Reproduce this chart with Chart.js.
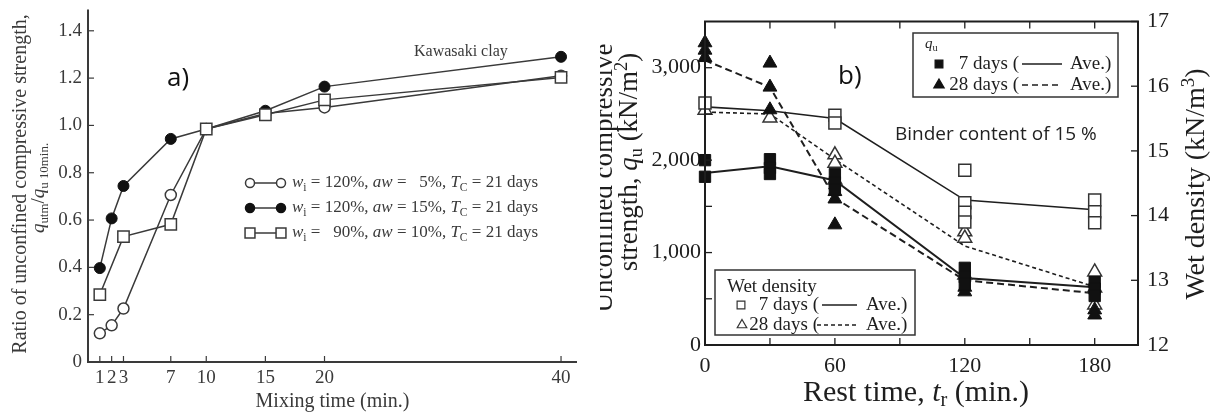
<!DOCTYPE html>
<html><head><meta charset="utf-8">
<script src="https://cdn.jsdelivr.net/npm/chart.js@4.4.1/dist/chart.umd.min.js"></script>
<style>
html,body{margin:0;padding:0;background:#fff;}
#wrap{position:relative;width:1211px;height:414px;overflow:hidden;background:#fff;}
#boxA{position:absolute;left:0;top:0;width:600px;height:414px;}
#boxB{position:absolute;left:600px;top:0;width:611px;height:414px;}
</style></head><body>
<div id="wrap">
<div id="boxA"><canvas id="cA" width="600" height="414"></canvas></div>
<div id="boxB"><canvas id="cB" width="611" height="414"></canvas></div>
</div>
<script>
// ---------- Panel a) data ----------
const mixTimes   = [1, 2, 3, 7, 10, 15, 20, 40];
const mixTimesSq = [1, 3, 7, 10, 15, 20, 40];
const ratioAw5   = [0.121, 0.155, 0.226, 0.706, 0.985, 1.05, 1.076, 1.21];
const ratioAw15  = [0.397, 0.607, 0.744, 0.943, 0.985, 1.062, 1.164, 1.29];
const ratioW90   = [0.285, 0.53, 0.582, 0.985, 1.045, 1.108, 1.203];
const mixTickValues   = [1, 2, 3, 7, 10, 15, 20, 40];
const ratioTickValues = [0, 0.2, 0.4, 0.6, 0.8, 1.0, 1.2, 1.4];
const legendA = ['w_i = 120%, aw =   5%, T_C = 21 days', 'w_i = 120%, aw = 15%, T_C = 21 days', 'w_i =   90%, aw = 10%, T_C = 21 days'];

// ---------- Panel b) data ----------
const restTimes  = [0, 30, 60, 120, 180];
const qu7Times   = [0, 0, 30, 30, 30, 60, 60, 60, 120, 120, 120, 180, 180, 180];
const qu7Values  = [2000, 1820, 2010, 1915, 1850, 1850, 1760, 1680, 835, 735, 660, 680, 610, 530];
const qu7Ave     = [1860, 1935, 1780, 725, 625];
const qu28Times  = [0, 0, 0, 30, 30, 30, 60, 60, 60, 120, 120, 180, 180];
const qu28Values = [3270, 3190, 3110, 3050, 2790, 2545, 1660, 1580, 1300, 625, 575, 380, 325];
const qu28Ave    = [3080, 2790, 1590, 700, 560];
const den7Times  = [0, 60, 60, 120, 120, 120, 120, 180, 180, 180];
const den7Values = [15.74, 15.55, 15.43, 14.70, 14.20, 14.05, 13.90, 14.24, 14.06, 13.89];
const den7Ave    = [15.68, 15.62, 15.50, 14.24, 14.09];
const den28Times = [0, 30, 60, 60, 60, 120, 120, 120, 180, 180, 180];
const den28Values= [15.63, 15.51, 14.94, 14.81, 14.55, 13.75, 13.65, 13.08, 13.13, 12.88, 12.62];
const den28Ave   = [15.60, 15.57, 14.87, 13.53, 12.90];
const restTickValues = [0, 30, 60, 90, 120, 150, 180];
const quTickValues   = [0, 500, 1000, 1500, 2000, 2500, 3000];
const denTickValues  = [12, 13, 14, 15, 16, 17];

// ---------- helpers ----------
const SERIF = "Liberation Serif, DejaVu Serif, serif";
const SANS = "Open Sans, Liberation Sans, sans-serif";
Chart.defaults.font.family = SERIF;
function zip(xs, ys){ return xs.map((x,i)=>({x:x, y:ys[i]})); }
function runFont(r, size, fam){ const s=(r.sub||r.sup)?size*0.68:size; return (r.it?'italic ':'')+s.toFixed(2)+'px '+fam; }
function measureRuns(ctx, runs, size, fam){ let w=0; for(const r of runs){ ctx.font=runFont(r,size,fam); w+=ctx.measureText(r.t).width; } return w; }
function drawRich(ctx, runs, x, y, o){
  const size=o.size, fam=o.family||SERIF;
  ctx.save(); ctx.translate(x,y); if(o.rotate) ctx.rotate(o.rotate); if(o.hs) ctx.scale(o.hs,1);
  const w=measureRuns(ctx,runs,size,fam);
  let cx = o.align==='center' ? -w/2 : (o.align==='right' ? -w : 0);
  ctx.fillStyle=o.color||'#222'; ctx.textBaseline='middle'; ctx.textAlign='left';
  for(const r of runs){ ctx.font=runFont(r,size,fam); const dy=r.sub?size*0.27:(r.sup?-size*0.3:0); ctx.fillText(r.t,cx,dy); cx+=ctx.measureText(r.t).width; }
  ctx.restore();
}
function parseRich(s){
  const runs=[]; const re=/(w_i|T_C|aw)/g; let last=0, m;
  while((m=re.exec(s))){ if(m.index>last) runs.push({t:s.slice(last,m.index)});
    if(m[0]==='w_i'){ runs.push({t:'w',it:true}); runs.push({t:'i',sub:true}); }
    else if(m[0]==='T_C'){ runs.push({t:'T',it:true}); runs.push({t:'C',sub:true}); }
    else runs.push({t:'aw',it:true});
    last=re.lastIndex; }
  if(last<s.length) runs.push({t:s.slice(last)});
  return runs;
}
function seg(ctx,x1,y1,x2,y2){ ctx.beginPath(); ctx.moveTo(x1,y1); ctx.lineTo(x2,y2); ctx.stroke(); }
function fixedTicks(vals){ return function(axis){ axis.ticks = vals.map(v=>({value:v})); }; }
function fitW(w){ return function(s){ s.width=w; s.paddingTop=0; s.paddingBottom=0; s.paddingLeft=0; s.paddingRight=0; }; }
function fitH(h){ return function(s){ s.height=h; s.paddingTop=0; s.paddingBottom=0; s.paddingLeft=0; s.paddingRight=0; }; }

// ---------- Chart a) ----------
const colA='#3a3a3a';
const plugA = {
  id:'decoA',
  afterDraw(chart){
    const {ctx, chartArea:a, scales:{x,y}} = chart;
    ctx.save();
    ctx.strokeStyle=colA; ctx.lineWidth=2;
    ctx.beginPath(); ctx.moveTo(a.left,a.top); ctx.lineTo(a.left,a.bottom); ctx.lineTo(a.right,a.bottom); ctx.stroke();
    ctx.lineWidth=1.2;
    y.ticks.forEach(t=>{ if(t.value===0) return; const p=y.getPixelForValue(t.value); seg(ctx,a.left,p,a.left+6,p); });
    x.ticks.forEach(t=>{ const p=x.getPixelForValue(t.value); seg(ctx,p,a.bottom,p,a.bottom-6); });
    drawRich(ctx,[{t:'Mixing time (min.)'}],(a.left+a.right)/2,402,{size:20,align:'center',color:colA});
    drawRich(ctx,[{t:'Ratio of unconfined compressive strength,'}],21,184,{size:20,align:'center',rotate:-Math.PI/2,color:colA});
    drawRich(ctx,[{t:'q',it:true},{t:'utm',sub:true},{t:'/'},{t:'q',it:true},{t:'u 10min.',sub:true}],39,188,{size:19,align:'center',rotate:-Math.PI/2,color:colA});
    drawRich(ctx,[{t:'Kawasaki clay'}],414,52,{size:16,color:colA});
    drawRich(ctx,[{t:'a)'}],167,79,{size:26,family:SANS,color:'#111'});
    const ds = chart.data.datasets;
    const rowsY=[183,208,233];
    legendA.forEach((txt,i)=>{
      const d = ds[[2,1,0][i]];
      const yy=rowsY[i];
      ctx.strokeStyle=colA; ctx.lineWidth=1.5; seg(ctx,250,yy,281,yy);
      ctx.fillStyle=d.pointBackgroundColor; ctx.strokeStyle=d.pointBorderColor; ctx.lineWidth=1.5;
      const r = d.pointStyle==='rect'?7:4.5;
      Chart.helpers.drawPoint(ctx,{pointStyle:d.pointStyle,radius:r,rotation:0,borderWidth:1.5},250,yy);
      Chart.helpers.drawPoint(ctx,{pointStyle:d.pointStyle,radius:r,rotation:0,borderWidth:1.5},281,yy);
      drawRich(ctx,parseRich(txt),292,yy,{size:17,color:colA});
    });
    ctx.restore();
  }
};
new Chart(document.getElementById('cA'),{
  type:'line',
  data:{datasets:[
    {label:'w90 aw10', data:zip(mixTimesSq,ratioW90), borderColor:colA, borderWidth:1.5, pointStyle:'rect', pointRadius:8, pointBackgroundColor:'#fff', pointBorderColor:colA, pointBorderWidth:1.5, order:0},
    {label:'w120 aw15', data:zip(mixTimes,ratioAw15), borderColor:colA, borderWidth:1.5, pointStyle:'circle', pointRadius:5.5, pointBackgroundColor:'#111', pointBorderColor:'#111', pointBorderWidth:1, order:1},
    {label:'w120 aw5', data:zip(mixTimes,ratioAw5), borderColor:colA, borderWidth:1.5, pointStyle:'circle', pointRadius:5.5, pointBackgroundColor:'#fff', pointBorderColor:colA, pointBorderWidth:1.5, order:2}
  ]},
  options:{
    responsive:false, animation:false, devicePixelRatio:1,
    layout:{padding:{left:0,right:23,top:7,bottom:0}},
    plugins:{legend:{display:false},tooltip:{enabled:false}},
    elements:{line:{tension:0}},
    scales:{
      x:{type:'linear',min:0,max:41.35,afterBuildTicks:fixedTicks(mixTickValues),afterFit:fitH(52),
         grid:{display:false,drawTicks:false,tickLength:0},border:{display:false},
         ticks:{autoSkip:false,maxRotation:0,padding:5,color:colA,font:{family:SERIF,size:19}}},
      y:{type:'linear',min:0,max:1.49,afterBuildTicks:fixedTicks(ratioTickValues),afterFit:fitW(88),
         grid:{display:false,drawTicks:false,tickLength:0},border:{display:false},
         ticks:{autoSkip:false,padding:6,color:colA,font:{family:SERIF,size:19},callback:v=>v===0?'0':v.toFixed(1)}}
    }
  },
  plugins:[plugA]
});

// ---------- Chart b) ----------
const colB='#1e1e1e';
const OX=600;
const plugB = {
  id:'decoB',
  afterDraw(chart){
    const {ctx, chartArea:a, scales:{x,y,y2}} = chart;
    ctx.save();
    ctx.strokeStyle=colB; ctx.lineWidth=2;
    ctx.strokeRect(a.left,a.top,a.right-a.left,a.bottom-a.top);
    ctx.lineWidth=1.3;
    y.ticks.forEach(t=>{ const p=y.getPixelForValue(t.value); seg(ctx,a.left,p,a.left+7,p); });
    y2.ticks.forEach(t=>{ const p=y2.getPixelForValue(t.value); seg(ctx,a.right,p,a.right-7,p); });
    x.ticks.forEach(t=>{ const p=x.getPixelForValue(t.value); seg(ctx,p,a.bottom,p,a.bottom-7); seg(ctx,p,a.top,p,a.top+7); });
    drawRich(ctx,[{t:'Rest time, '},{t:'t',it:true},{t:'r',sub:true},{t:' (min.)'}],916-OX,393,{size:30,align:'center',color:colB});
    drawRich(ctx,[{t:'Unconfined compressive'}],605-OX,178,{size:27,align:'center',rotate:-Math.PI/2,color:colB});
    drawRich(ctx,[{t:'strength, '},{t:'q',it:true},{t:'u',sub:true},{t:' (kN/m'},{t:'2',sup:true},{t:')'}],630-OX,162,{size:27,align:'center',rotate:-Math.PI/2,color:colB});
    drawRich(ctx,[{t:'Wet density (kN/m'},{t:'3',sup:true},{t:')'}],1197-OX,184,{size:28,align:'center',rotate:-Math.PI/2,color:colB});
    drawRich(ctx,[{t:'b)'}],838-OX,77,{size:26,family:SANS,color:'#111'});
    drawRich(ctx,[{t:'Binder content of 15 %'}],895-OX,135,{size:19,family:SANS,color:'#222'});
    const ds=chart.data.datasets;
    function legendBox(x1,y1,x2,y2){ ctx.fillStyle='#fff'; ctx.fillRect(x1-OX,y1,x2-x1,y2-y1); ctx.strokeStyle='#333'; ctx.lineWidth=1.5; ctx.strokeRect(x1-OX,y1,x2-x1,y2-y1); }
    function mark(d,xx,yy,r){ ctx.fillStyle=d.pointBackgroundColor; ctx.strokeStyle=d.pointBorderColor; ctx.lineWidth=1.2;
      Chart.helpers.drawPoint(ctx,{pointStyle:d.pointStyle,radius:r,rotation:0,borderWidth:1.2},xx-OX,yy); }
    function lineSample(dash,x1,x2,yy){ ctx.strokeStyle=colB; ctx.lineWidth=1.5; ctx.setLineDash(dash); seg(ctx,x1-OX,yy,x2-OX,yy); ctx.setLineDash([]); }
    legendBox(913,33,1118,97);
    drawRich(ctx,[{t:'q',it:true},{t:'u',sub:true}],925-OX,44,{size:15,color:colB});
    mark(ds[0],939,64,5.5); drawRich(ctx,[{t:'7 days ('}],1019-OX,64,{size:19,align:'right',color:colB});
    lineSample([],1022,1062,64); drawRich(ctx,[{t:'Ave.)'}],1070-OX,64,{size:19,color:colB});
    mark(ds[1],939,85,6); drawRich(ctx,[{t:'28 days ('}],1019-OX,85,{size:19,align:'right',color:colB});
    lineSample([6,4],1022,1062,85); drawRich(ctx,[{t:'Ave.)'}],1070-OX,85,{size:19,color:colB});
    legendBox(715,270,915,335);
    drawRich(ctx,[{t:'Wet density'}],727-OX,287,{size:19,color:colB});
    mark(ds[2],741,305,5.5); drawRich(ctx,[{t:'7 days ('}],819-OX,305,{size:19,align:'right',color:colB});
    lineSample([],822,857,305); drawRich(ctx,[{t:'Ave.)'}],866-OX,305,{size:19,color:colB});
    mark(ds[3],742,325,5.5); drawRich(ctx,[{t:'28 days ('}],819-OX,325,{size:19,align:'right',color:colB});
    lineSample([4,3],817,857,325); drawRich(ctx,[{t:'Ave.)'}],866-OX,325,{size:19,color:colB});
    ctx.restore();
  }
};
const ptBase={showLine:false, clip:false, order:0};
const lnBase={pointRadius:0, clip:false, order:1, fill:false};
new Chart(document.getElementById('cB'),{
  type:'line',
  data:{datasets:[
    Object.assign({label:'qu 7 days', data:zip(qu7Times,qu7Values), yAxisID:'y', pointStyle:'rect', pointRadius:8, pointBackgroundColor:'#111', pointBorderColor:'#111', pointBorderWidth:1},ptBase),
    Object.assign({label:'qu 28 days', data:zip(qu28Times,qu28Values), yAxisID:'y', pointStyle:'triangle', pointRadius:8, pointBackgroundColor:'#111', pointBorderColor:'#111', pointBorderWidth:1},ptBase),
    Object.assign({label:'density 7 days', data:zip(den7Times,den7Values), yAxisID:'y2', pointStyle:'rect', pointRadius:8.5, pointBackgroundColor:'#fff', pointBorderColor:'#333', pointBorderWidth:1.5},ptBase),
    Object.assign({label:'density 28 days', data:zip(den28Times,den28Values), yAxisID:'y2', pointStyle:'triangle', pointRadius:8, pointBackgroundColor:'#fff', pointBorderColor:'#333', pointBorderWidth:1.5},ptBase),
    Object.assign({label:'qu 7 days Ave.', data:zip(restTimes,qu7Ave), yAxisID:'y', borderColor:colB, borderWidth:2},lnBase),
    Object.assign({label:'qu 28 days Ave.', data:zip(restTimes,qu28Ave), yAxisID:'y', borderColor:colB, borderWidth:2, borderDash:[7,4]},lnBase),
    Object.assign({label:'density 7 days Ave.', data:zip(restTimes,den7Ave), yAxisID:'y2', borderColor:colB, borderWidth:1.6},lnBase),
    Object.assign({label:'density 28 days Ave.', data:zip(restTimes,den28Ave), yAxisID:'y2', borderColor:colB, borderWidth:1.6, borderDash:[4,3]},lnBase)
  ]},
  options:{
    responsive:false, animation:false, devicePixelRatio:1,
    layout:{padding:{left:0,right:0,top:21.5,bottom:0}},
    plugins:{legend:{display:false},tooltip:{enabled:false}},
    elements:{line:{tension:0}},
    scales:{
      x:{type:'linear',min:0,max:200,afterBuildTicks:fixedTicks(restTickValues),afterFit:fitH(69),
         grid:{display:false,drawTicks:false,tickLength:0},border:{display:false},
         ticks:{autoSkip:false,maxRotation:0,padding:8,color:colB,font:{family:SERIF,size:22},callback:v=>v%60===0?String(v):''}},
      y:{type:'linear',position:'left',min:0,max:3500,afterBuildTicks:fixedTicks(quTickValues),afterFit:fitW(105),
         grid:{display:false,drawTicks:false,tickLength:0},border:{display:false},
         ticks:{autoSkip:false,padding:4,color:colB,font:{family:SERIF,size:22},callback:v=>v%1000===0?v.toLocaleString('en-US'):''}},
      y2:{type:'linear',position:'right',min:12,max:17,afterBuildTicks:fixedTicks(denTickValues),afterFit:fitW(73),
         grid:{display:false,drawTicks:false,tickLength:0},border:{display:false},
         ticks:{autoSkip:false,padding:9,color:colB,font:{family:SERIF,size:22},callback:v=>String(v)}}
    }
  },
  plugins:[plugB]
});
</script>
</body></html>
